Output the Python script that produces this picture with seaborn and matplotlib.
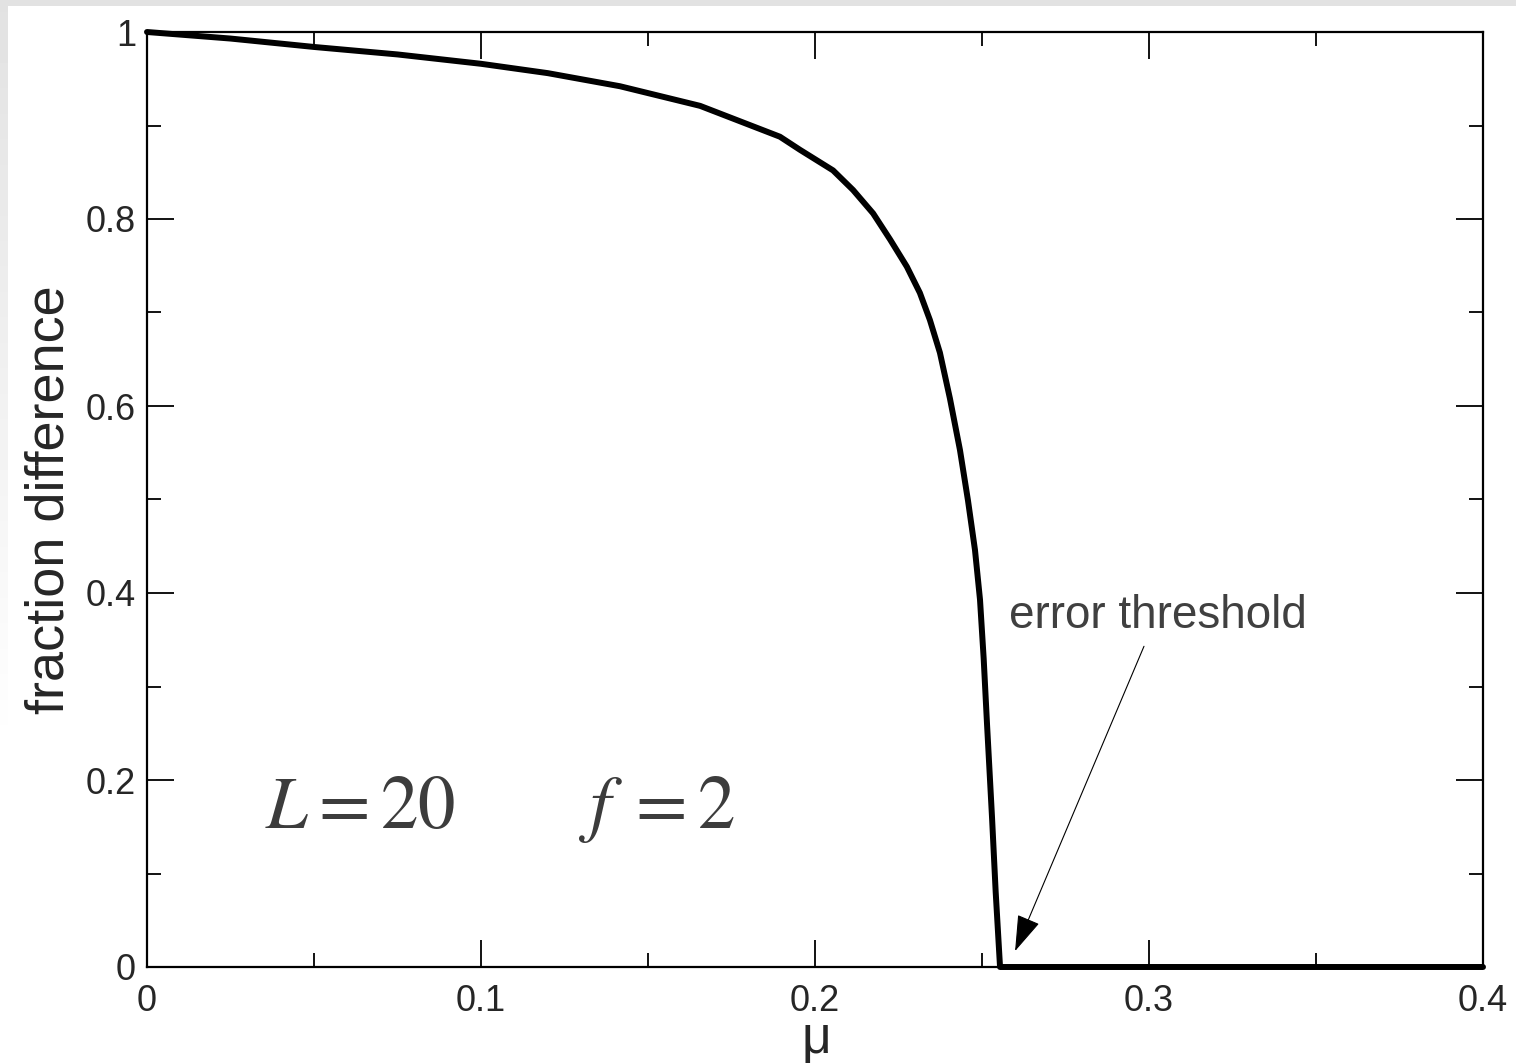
import numpy as np
import matplotlib
matplotlib.use("Agg")
import matplotlib.pyplot as plt
from matplotlib.ticker import MultipleLocator, FormatStrFormatter
import seaborn as sns

# ---- data ----
mu = [0.0, 0.025, 0.05, 0.075, 0.1, 0.12, 0.1416, 0.1656, 0.1895, 0.1955,
      0.2054, 0.2114, 0.2174, 0.2225, 0.2275, 0.2314, 0.2344, 0.2374,
      0.2404, 0.2434, 0.2458, 0.2479, 0.2494, 0.2505, 0.2515, 0.2530,
      0.2541, 0.2554, 0.4]
frac_diff = [1.0, 0.993, 0.984, 0.976, 0.966, 0.956, 0.942, 0.921, 0.888, 0.874,
             0.852, 0.831, 0.806, 0.778, 0.749, 0.721, 0.692, 0.657,
             0.608, 0.553, 0.499, 0.446, 0.393, 0.330, 0.260, 0.160,
             0.080, 0.0, 0.0]

x_ticks = [0, 0.1, 0.2, 0.3, 0.4]
y_ticks = [0, 0.2, 0.4, 0.6, 0.8, 1.0]

threshold_tip = (0.2599, 0.017)
threshold_tail = (0.2985, 0.343)

sns.set_style("ticks")
plt.rcParams['font.family'] = ['Liberation Sans', 'DejaVu Sans']
plt.rcParams['mathtext.fontset'] = 'custom'
plt.rcParams['mathtext.rm'] = 'Liberation Sans'
plt.rcParams['mathtext.it'] = 'Liberation Sans:italic'

fig = plt.figure(figsize=(15.16, 10.64), dpi=100)

# faint grey slide border (top strip + left strip fading out)
bg = fig.add_axes([0, 0, 1, 1], zorder=-10)
h, w = 1064, 1516
shade = np.ones((h, w))
rows = np.arange(h)
left_strip = np.clip(0.885 + (1 - 0.885) * rows / 750, 0.885, 1.0)
shade[:, :8] = left_strip[:, None]
shade[:6, :] = 0.885
bg.imshow(shade, cmap='gray', vmin=0, vmax=1, aspect='auto', interpolation='nearest')
bg.axis('off')

ax = fig.add_axes([147 / 1516, 1 - 967 / 1064, 1336 / 1516, 935 / 1064])
ax.set_facecolor('white')

sns.lineplot(x=mu, y=frac_diff, ax=ax, color='black', linewidth=4.3,
             clip_on=False, zorder=5)

ax.set_xlim(0, 0.4)
ax.set_ylim(0, 1)
ax.set_xticks(x_ticks)
ax.set_yticks(y_ticks)
ax.xaxis.set_minor_locator(MultipleLocator(0.05))
ax.yaxis.set_minor_locator(MultipleLocator(0.1))
ax.xaxis.set_major_formatter(FormatStrFormatter('%g'))
ax.yaxis.set_major_formatter(FormatStrFormatter('%g'))

ax.tick_params(which='both', direction='in', top=True, right=True,
               color='black', width=1.3)
ax.tick_params(which='major', length=19.5, labelsize=26, pad=8)
ax.tick_params(axis='x', which='major', pad=12)
ax.tick_params(which='minor', length=10)
for s in ax.spines.values():
    s.set_linewidth(1.6)
    s.set_color('black')

ax.set_xlabel(r'$\mathrm{μ}$', fontsize=37, labelpad=-2)
ax.set_ylabel('fraction difference', fontsize=39, labelpad=8)

ax.text(0.0353, 0.149, r'$L=20$', fontsize=54, color='#3c3c3c',
        math_fontfamily='stix')
ax.text(0.129, 0.149, r'$f\;=2$', fontsize=54, color='#3c3c3c',
        math_fontfamily='stix')

ax.text(0.258, 0.363, 'error threshold', fontsize=33, color='#404040')
ax.annotate('', xy=threshold_tip, xytext=threshold_tail,
            arrowprops=dict(arrowstyle='-|>,head_length=2.3,head_width=0.75',
                            mutation_scale=10, color='black', lw=0.8,
                            shrinkA=0, shrinkB=0))

fig.savefig('out.png', dpi=100)
